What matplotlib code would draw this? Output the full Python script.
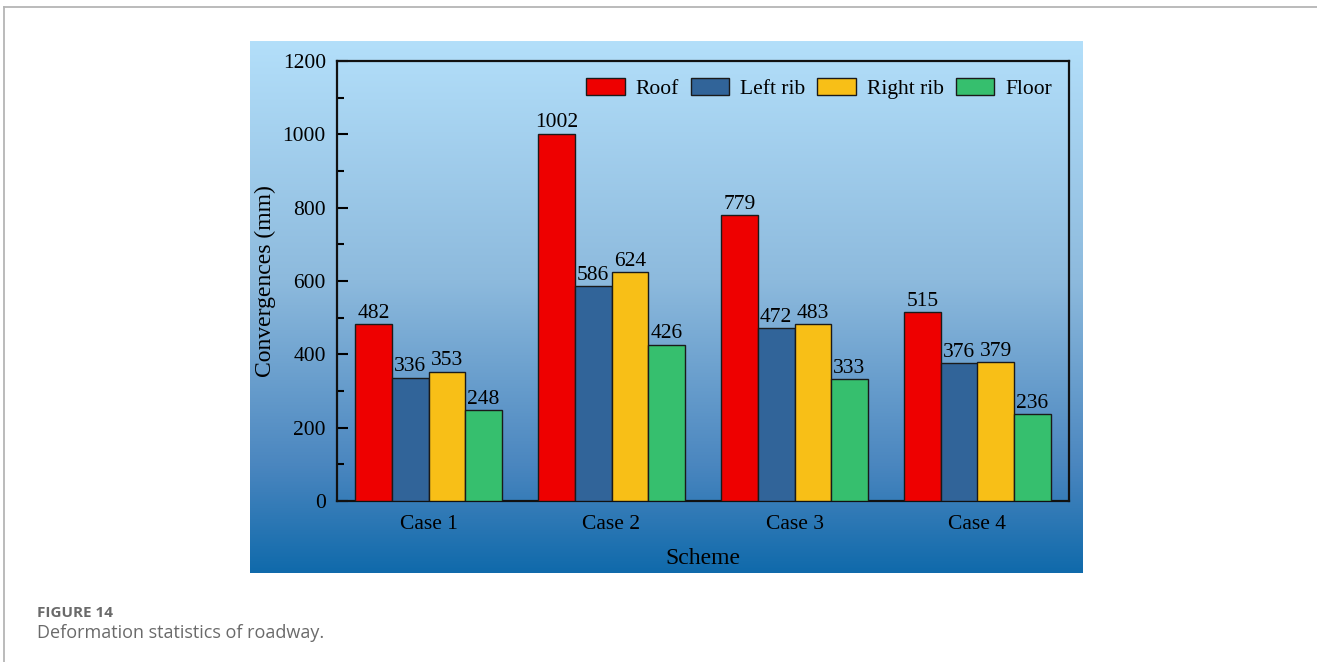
import numpy as np
import matplotlib
matplotlib.use("Agg")
import matplotlib.pyplot as plt
from matplotlib.colors import LinearSegmentedColormap
from matplotlib.lines import Line2D

plt.rcParams["font.family"] = ["Liberation Serif", "DejaVu Serif"]

cases = ["Case 1", "Case 2", "Case 3", "Case 4"]
parts = ["Roof", "Left rib", "Right rib", "Floor"]
roof = [482, 1002, 779, 515]
left_rib = [336, 586, 472, 376]
right_rib = [353, 624, 483, 379]
floor = [248, 426, 333, 236]
series = [roof, left_rib, right_rib, floor]
colors = ["#ee0000", "#316499", "#f8bf17", "#36bf6e"]

W, H = 1317, 662
fig = plt.figure(figsize=(W / 100, H / 100), dpi=100)
fig.patch.set_facecolor("white")

# page frame (top and left edges)
fig.add_artist(Line2D([4 / W, 1], [1 - 7 / H, 1 - 7 / H], color="#b5b5b5", lw=1.3))
fig.add_artist(Line2D([4 / W, 4 / W], [0, 1 - 7 / H], color="#b5b5b5", lw=1.3))

# gradient panel behind the chart
bg = fig.add_axes([250 / W, 1 - 573 / H, 833 / W, 532 / H])
grad_cmap = LinearSegmentedColormap.from_list(
    "panel", [(0.0, "#b3dffa"), (0.45, "#8dbadd"), (0.8, "#4a86bf"), (1.0, "#106aab")])
grad = np.linspace(0, 1, 256).reshape(-1, 1)
bg.imshow(grad, aspect="auto", cmap=grad_cmap, extent=[0, 1, 1, 0])
bg.set_axis_off()

ax = fig.add_axes([337 / W, 1 - 501 / H, 732 / W, 440 / H])
ax.set_facecolor("none")

x = np.arange(1, len(cases) + 1)
width = 0.2
for i, (name, vals, c) in enumerate(zip(parts, series, colors)):
    bars = ax.bar(x + (i - 1.5) * width, vals, width, color=c,
                  edgecolor="#1a1a1a", linewidth=1.0, label=name, zorder=3)
    ax.bar_label(bars, labels=[str(v) for v in vals], padding=1, fontsize=15.5)

ax.set_xlim(0.5, 4.5)
ax.set_ylim(0, 1200)
ax.set_xticks(x)
ax.set_xticklabels(cases)
ax.set_yticks(np.arange(0, 1201, 200))
ax.set_yticks(np.arange(100, 1200, 200), minor=True)
ax.tick_params(axis="y", which="major", direction="in", length=8, width=1.5,
               labelsize=15.5, pad=8)
ax.tick_params(axis="y", which="minor", direction="in", length=5, width=1.5)
ax.tick_params(axis="x", length=0, labelsize=15.5, pad=10)
for sp in ax.spines.values():
    sp.set_linewidth(1.6)
    sp.set_color("#111111")

ax.set_xlabel("Scheme", fontsize=17, labelpad=10)
ax.set_ylabel("Convergences (mm)", fontsize=17, labelpad=5)

ax.legend(loc="upper right", ncol=4, frameon=False, fontsize=15.5,
          handlelength=1.8, handleheight=0.85, handletextpad=0.5,
          columnspacing=0.55, borderaxespad=0.4, bbox_to_anchor=(1.0, 1.0))

fig.text(37 / W, 1 - 613 / H, "FIGURE 14", fontsize=11, fontweight="bold",
         color="#6a6a6a", family=["Open Sans", "DejaVu Sans"], va="center")
fig.text(37 / W, 1 - 638 / H, "Deformation statistics of roadway.", fontsize=13,
         color="#6a6a6a", family=["Open Sans", "DejaVu Sans"], va="baseline")

fig.savefig("out.png", dpi=100)
